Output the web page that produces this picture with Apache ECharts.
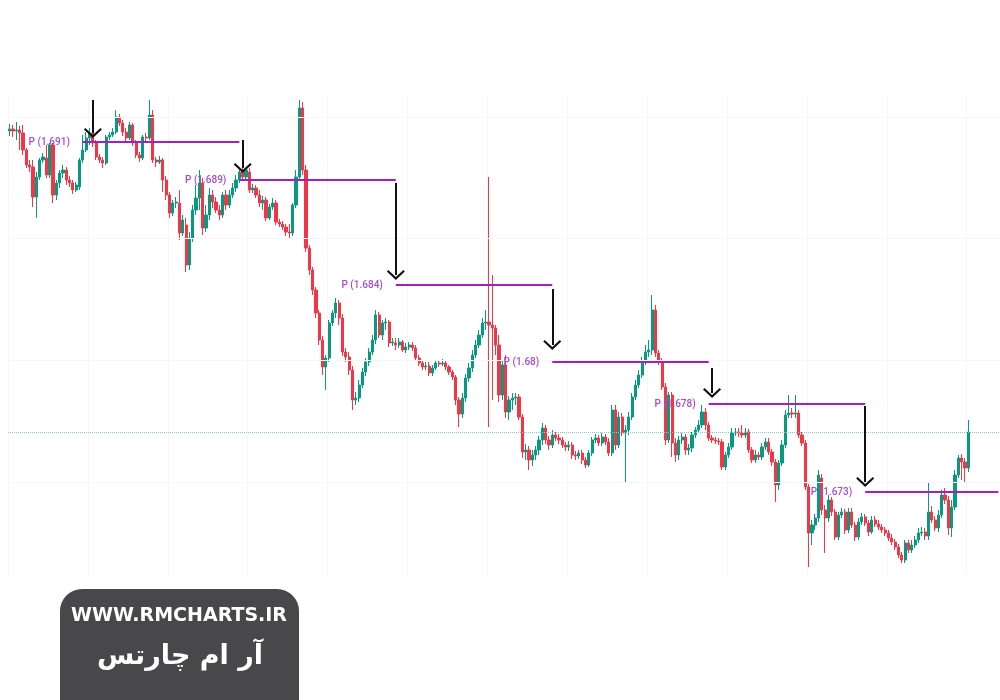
<!DOCTYPE html>
<html><head><meta charset="utf-8">
<script src="https://cdn.jsdelivr.net/npm/echarts@6/dist/echarts.min.js"></script>
<style>html,body{margin:0;padding:0;background:#fff}#c{width:1000px;height:700px}</style>
</head><body><div id="c"></div>
<script>
// Prices in pips (1 pip = 0.0001), e.g. 16912 = 1.6912
const opens = [16917.5,16918.5,16917.5,16918,16916.5,16908,16900.5,16899.5,16884.5,16894.5,16903,16904,16895.5,16910.5,16885.5,16891.5,16896.5,16898,16893,16891.5,16888,16889.5,16903,16908,16914,16916.5,16911.5,16904.5,16903,16901.5,16914.5,16915.5,16917,16924.5,16921.5,16917,16914,16920.5,16911.5,16905.5,16904,16914.5,16914,16925.5,16903,16902,16903,16893,16885.5,16876.5,16881.5,16881.5,16866.5,16870.5,16850.5,16864,16878,16884,16891.5,16869,16875.5,16885.5,16882,16878,16875.5,16885.5,16880.5,16885.5,16889,16893,16897,16894.5,16897,16888,16889,16885.5,16881.5,16883,16874,16879.5,16881.5,16872,16871,16869.5,16867,16866.5,16880.5,16894.5,16929,16898,16859,16848,16838,16826.5,16813,16799.5,16804,16821.5,16826.5,16831.5,16824,16807,16804.5,16798,16783,16784,16790.5,16797,16802,16807,16813,16825.5,16815.5,16821.5,16822,16811.5,16811.5,16810.5,16812,16808,16809.5,16810.5,16809,16804,16801.5,16799.5,16800,16796.5,16799,16801.5,16801,16801.5,16799.5,16797,16794.5,16783,16776,16784,16794,16799,16805.5,16810.5,16815.5,16821.5,16822,16820.5,16819,16810.5,16785.5,16800.5,16777,16783,16784,16784.5,16774.5,16757,16758,16753,16755.5,16758,16763,16769,16763,16760.5,16765.5,16764,16763,16760.5,16759.5,16760.5,16755.5,16755,16756.5,16753,16750.5,16756.5,16763,16764,16761.5,16764.5,16762,16756.5,16778,16760.5,16774.5,16766.5,16768,16774.5,16784.5,16790.5,16795.5,16802,16807,16808,16828,16806.5,16802,16789.5,16763,16785.5,16761.5,16755.5,16763,16764.5,16758,16759,16765.5,16768,16770.5,16777,16770.5,16764,16763,16762.5,16762,16749.5,16755.5,16759.5,16766.5,16767,16766.5,16765.5,16767,16758,16753,16755.5,16754.5,16759.5,16762,16757,16752,16740.5,16751.5,16760.5,16775.5,16776.5,16776,16776.5,16765.5,16761.5,16739.5,16716.5,16720.5,16724,16744,16728,16724,16733,16727,16714.5,16725.5,16727,16718,16727,16720.5,16714.5,16722,16724.5,16721.5,16717,16723,16721,16719.5,16718,16716.5,16714,16712,16709.5,16705.5,16703,16711.5,16708,16710.5,16713,16716.5,16717,16715,16727,16723,16719,16725.5,16735.5,16733,16719,16729.5,16745.5,16754,16752,16749];
const closes = [16918.5,16917.5,16918,16916.5,16908,16900.5,16899.5,16884.5,16894.5,16903,16904.5,16895.5,16910.5,16885.5,16891.5,16896.5,16898,16893,16891.5,16888,16890.5,16903,16908,16914,16916.5,16911.5,16904.5,16903,16901.5,16914.5,16915.5,16917,16924.5,16921.5,16917,16914,16920.5,16911.5,16905.5,16904,16914.5,16914,16925.5,16903,16902,16903,16893,16885.5,16876.5,16881.5,16882,16866.5,16873,16850.5,16864,16878,16884,16891.5,16869,16875.5,16885.5,16882,16878,16875.5,16885.5,16880.5,16885.5,16889,16893,16897,16894.5,16898,16888,16889,16885.5,16881.5,16883,16874,16879.5,16881.5,16872,16871,16869.5,16867,16866.5,16880.5,16894.5,16929,16898,16859,16848,16838,16826.5,16813,16799.5,16804,16821.5,16826.5,16831.5,16824,16807,16804.5,16798,16783,16784,16790.5,16797,16802,16807,16813,16825.5,16815.5,16821.5,16822,16811.5,16812,16810.5,16812,16808,16809.5,16810.5,16809,16804,16801.5,16799.5,16800,16796.5,16799,16801.5,16801,16801.5,16799.5,16797,16794.5,16783,16776,16784,16794,16799,16805.5,16810.5,16815.5,16821.5,16822,16820.5,16819,16810.5,16785.5,16800.5,16777,16783,16784,16784.5,16774.5,16757,16758,16753,16755.5,16758,16763,16769,16763,16760.5,16765.5,16764,16763,16760.5,16759.5,16760.5,16755.5,16755,16756.5,16753,16750.5,16756.5,16763,16764,16761.5,16764.5,16762,16756.5,16778,16760.5,16774.5,16766.5,16768,16774.5,16784.5,16790.5,16795.5,16802,16807,16808,16828,16806.5,16802,16789.5,16763,16785.5,16761.5,16755.5,16763,16764.5,16758,16759,16765.5,16768,16770.5,16777,16770.5,16764,16763,16762.5,16762,16749.5,16755.5,16759.5,16766.5,16767,16766.5,16765.5,16767,16758,16753,16755.5,16754.5,16759.5,16762,16757,16752,16740.5,16751.5,16760.5,16775.5,16776.5,16776,16776.5,16765.5,16761.5,16739.5,16716.5,16720.5,16724,16745.5,16728,16724,16733,16727,16714.5,16725.5,16727,16718,16727,16720.5,16714.5,16722,16724.5,16721.5,16717,16723,16721,16719.5,16718,16716.5,16714,16712,16709.5,16705.5,16703,16711.5,16708,16710.5,16713,16716.5,16717,16715,16727,16723,16719,16725.5,16735.5,16733,16719,16729.5,16745.5,16754,16752,16749,16767];
const lows = [16915,16914.5,16913,16908,16905.5,16899,16897,16879.5,16874,16893,16901.5,16894,16894,16881.5,16883,16889,16894,16890.5,16889.5,16886,16887,16888,16901.5,16907,16910.5,16909.5,16903,16901.5,16899,16900.5,16913,16914.5,16916,16920,16915,16912.5,16913,16910,16904,16902,16903,16912.5,16913,16901.5,16899.5,16901,16887,16883,16874,16875,16879,16863,16865,16847,16848,16862,16875.5,16878,16865.5,16867,16873,16879,16876.5,16873,16874,16878,16879,16884,16887,16891.5,16893,16893,16886.5,16886.5,16884,16879.5,16878,16872.5,16873,16878,16870.5,16869.5,16868,16865,16864,16865,16879,16893,16895.5,16857,16845.5,16835.5,16824,16810.5,16795.5,16788,16802,16820,16824,16820.5,16805,16802,16795.5,16778,16780.5,16782,16789,16795,16800,16805.5,16811,16814,16813,16818,16809.5,16810,16808,16809,16807,16806.5,16808,16807.5,16802.5,16800,16798,16798,16795,16795,16798,16799.5,16800,16798,16795.5,16793,16780.5,16769.5,16774,16782,16792,16797,16804,16809,16814,16818,16769.5,16783,16805.5,16782,16783,16774,16773,16778,16780.5,16773,16754,16753,16748,16750,16753,16755.5,16760.5,16761,16758,16759,16762.5,16761,16759,16757.5,16757.5,16753.5,16753,16753.5,16751,16749,16749.5,16755,16761.5,16760,16760,16760.5,16755,16755,16758,16759,16765,16742,16765.5,16773,16783,16789,16794,16800.5,16804.5,16805.5,16804.5,16800.5,16788,16760.5,16761.5,16754.5,16752,16753,16761,16755.5,16755.5,16757,16764,16766.5,16769,16768,16762.5,16761.5,16761,16760.5,16748,16748,16754,16758,16765,16764.5,16764,16764,16756.5,16751.5,16751.5,16753,16753,16758,16755.5,16750,16732,16738,16750,16759,16774,16774,16774,16764,16760,16738,16699.5,16710.5,16718,16722,16725.5,16706.5,16722,16725,16713,16713,16724,16716,16716.5,16719,16712.5,16713,16720.5,16720,16715,16716,16719.5,16718,16716.5,16715,16712.5,16710.5,16708,16704,16701.5,16701.5,16706.5,16706.5,16709,16711.5,16715,16713,16713,16721.5,16717.5,16717,16724,16731,16715.5,16714.5,16728,16744,16743,16742,16747];
const highs = [16921,16920.5,16922,16920,16920.5,16909,16903,16903,16897,16904,16906.5,16910.5,16911.5,16911.5,16893,16898,16900.5,16899.5,16895,16893,16892,16904,16915.5,16917,16919,16918,16913,16906,16904.5,16915.5,16917,16919,16928,16926,16923,16919,16922,16921.5,16913,16907,16915.5,16916.5,16933,16928,16904.5,16905,16904,16895,16887,16883,16884.5,16888,16875.5,16874,16867,16880.5,16890.5,16898,16894,16880.5,16889,16888,16884.5,16880.5,16887,16888,16888,16891.5,16895.5,16899,16899,16899,16899,16891,16890.5,16888,16885,16884.5,16881,16884,16883,16873.5,16872.5,16871,16871,16881.5,16898,16933,16932,16900.5,16860.5,16849.5,16839.5,16828,16815,16805.5,16823,16828,16834,16833,16826,16809,16807,16800,16787,16793,16799,16804,16809,16815.5,16828,16827,16823,16824,16823,16814,16814,16814,16813,16811.5,16812,16812,16810.5,16805.5,16803,16802,16802,16800.5,16803,16803,16803.5,16803,16800.5,16798,16795.5,16784.5,16786.5,16796,16801.5,16808,16813,16818,16824,16828,16894.5,16845.5,16820.5,16815.5,16803,16805.5,16785,16786.5,16786.5,16786,16776,16761,16760,16758,16760,16765,16771.5,16770.5,16765,16768,16767,16766,16764.5,16762,16762.5,16762,16757.5,16758,16758,16754.5,16758,16764.5,16766,16765.5,16766.5,16766,16764,16780.5,16780.5,16777,16776.5,16770.5,16777,16786.5,16793,16798,16804.5,16810.5,16813,16835.5,16830.5,16808,16804,16791.5,16787,16787,16764,16765,16766.5,16766,16761,16767,16769.5,16773,16780.5,16779,16772,16765.5,16764.5,16764,16763.5,16757,16761.5,16769,16769,16769,16770.5,16769,16768.5,16759.5,16758,16757,16761.5,16764,16764,16758.5,16753.5,16753,16763,16778,16785.5,16779,16785.5,16778,16767,16763,16741,16723,16726,16748,16746,16730.5,16735.5,16734.5,16728.5,16727,16729,16728.5,16729,16729,16722,16724,16726.5,16726,16723,16725,16725,16723,16721,16719.5,16718,16716,16713.5,16711,16707,16713,16713,16713,16715,16719,16719.5,16719,16742,16730,16725,16728,16738,16739,16735,16733,16748,16755.5,16756,16754,16773];
const emptySlots = 9; // blank space after the last bar

const levelValues = [16912, 16893, 16840.5, 16802, 16781, 16737];
const levelStart = [22, 69, 116, 163, 210, 257];
const levelEnd = [69, 116, 163, 210, 257, 297];
const levelLabels = ['P (1.691)', 'P (1.689)', 'P (1.684)', 'P (1.68)', 'P (1.678)', 'P (1.673)'];

const arrowIndex = [25, 70, 116, 163, 211, 257];
const arrowFrom = [16933, 16913, 16891.5, 16838.5, 16799, 16780];
const arrowTo = [16916.5, 16899, 16845.5, 16810.5, 16786.5, 16742];

const lastPrice = 16767;
const gridLevels = [16924.5, 16864, 16803, 16742];

const yMin = 16695.5, yMax = 16935.5;

const total = opens.length + emptySlots;
const categories = Array.from({length: total}, (_, i) => String(i));
const candles = categories.map((_, i) => i < opens.length ? [opens[i], closes[i], lows[i], highs[i]] : '-');

const UP = '#089981', DOWN = '#f23645';
const chevron = 'path://M10,0L20,9L18.4,10.6L10,3.2L1.6,10.6L0,9Z';

const chart = echarts.init(document.getElementById('c'), null, {renderer: 'canvas'});
chart.setOption({
  animation: false,
  backgroundColor: '#ffffff',
  grid: {left: 8, right: 0, top: 95, bottom: 125},
  xAxis: {
    type: 'category', data: categories, boundaryGap: true,
    axisLine: {show: false}, axisTick: {show: false}, axisLabel: {show: false},
    splitLine: {show: true, interval: 23, lineStyle: {color: '#f5f6f8', width: 1}}
  },
  yAxis: {
    type: 'value', min: yMin, max: yMax, scale: true,
    axisLine: {show: false}, axisTick: {show: false}, axisLabel: {show: false},
    splitLine: {show: false}
  },
  series: [
    {
      type: 'line', data: [], silent: true, z: 1,
      markLine: {
        silent: true, symbol: 'none', label: {show: false},
        lineStyle: {color: '#f5f6f8', width: 1, type: 'solid'},
        data: gridLevels.map(v => ({yAxis: v}))
      }
    },
    {
      type: 'line', data: [], silent: true, z: 2,
      markLine: {
        silent: true, symbol: 'none', label: {show: false},
        lineStyle: {color: '#8cc9bf', width: 1, type: 'dotted'},
        data: [{yAxis: lastPrice}]
      }
    },
    {
      type: 'candlestick', data: candles, barWidth: '80%', z: 3, silent: true,
      itemStyle: {color: UP, color0: DOWN, borderColor: UP, borderColor0: DOWN, borderWidth: 1}
    },
    {
      type: 'line', data: [], silent: true, z: 4,
      markLine: {
        silent: true, symbol: 'none',
        lineStyle: {color: '#a020c0', width: 2, type: 'solid'},
        label: {show: true, position: 'start', distance: 13, formatter: '{b}',
                color: '#a350cf', fontSize: 10, fontWeight: 500, fontFamily: 'Roboto'},
        data: levelValues.map((v, k) => [
          {name: levelLabels[k], coord: [categories[levelStart[k]], v]},
          {coord: [categories[levelEnd[k]], v]}
        ])
      }
    },
    {
      type: 'line', data: [], silent: true, z: 5,
      markLine: {
        silent: true, symbol: ['none', chevron], symbolSize: [18, 10],
        label: {show: false},
        lineStyle: {color: '#111111', width: 2, type: 'solid'},
        data: arrowIndex.map((ix, k) => [
          {coord: [categories[ix], arrowFrom[k]]},
          {coord: [categories[ix], arrowTo[k]]}
        ])
      }
    }
  ],
  graphic: [
    {type: 'rect', shape: {x: 60, y: 589, width: 239, height: 140, r: 22}, style: {fill: '#48484a'}, z: 10},
    {type: 'text', x: 179, y: 616, z: 11, style: {text: 'WWW.RMCHARTS.IR', fill: '#ffffff', font: 'bold 19px "DejaVu Sans"', align: 'center', verticalAlign: 'middle'}},
    {type: 'text', x: 180, y: 657, z: 11, style: {text: 'آر ام چارتس', fill: '#ffffff', font: 'bold 27px "DejaVu Sans"', align: 'center', verticalAlign: 'middle'}}
  ]
});
</script>
</body></html>
